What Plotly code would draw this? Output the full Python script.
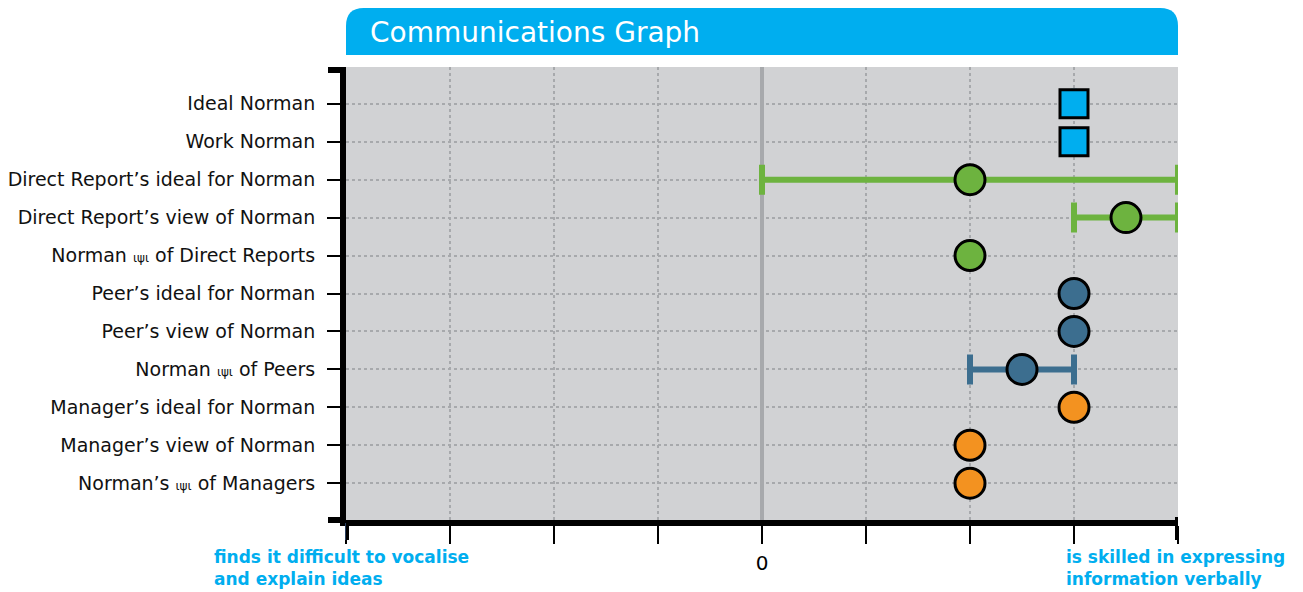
import plotly.graph_objects as go

PSI = "<span style='font-size:12px'>ιψι</span>"
categories = [
    "Ideal Norman",
    "Work Norman",
    "Direct Report’s ideal for Norman",
    "Direct Report’s view of Norman",
    "Norman " + PSI + " of Direct Reports",
    "Peer’s ideal for Norman",
    "Peer’s view of Norman",
    "Norman " + PSI + " of Peers",
    "Manager’s ideal for Norman",
    "Manager’s view of Norman",
    "Norman’s " + PSI + " of Managers",
]
values = [3, 3, 2, 3.5, 2, 3, 3, 2.5, 3, 2, 2]
err_minus = [0, 0, 2, 0.5, 0, 0, 0, 0.5, 0, 0, 0]
err_plus = [0, 0, 2, 0.5, 0, 0, 0, 0.5, 0, 0, 0]
groups = ["self", "self", "dr", "dr", "dr", "peer", "peer", "peer", "mgr", "mgr", "mgr"]
group_colors = {"self": "#00AEEF", "dr": "#6DB33F", "peer": "#3C6E8F", "mgr": "#F39220"}
group_symbols = {"self": "square", "dr": "circle", "peer": "circle", "mgr": "circle"}
x_ticks = [-4, -3, -2, -1, 0, 1, 2, 3, 4]
x_ticktext = ["", "", "", "", "0", "", "", "", ""]
title_text = "Communications Graph"
left_label = "finds it difficult to vocalise<br>and explain ideas"
right_label = "is skilled in expressing<br>information verbally"

fig = go.Figure()
for g in ["self", "dr", "peer", "mgr"]:
    idx = [i for i, gg in enumerate(groups) if gg == g]
    fig.add_trace(go.Scatter(
        x=[values[i] for i in idx],
        y=[categories[i] for i in idx],
        mode="markers",
        cliponaxis=False,
        marker=dict(
            symbol=group_symbols[g],
            size=28 if g == "self" else 30,
            color=group_colors[g],
            line=dict(color="black", width=3),
        ),
        error_x=dict(
            type="data", symmetric=False,
            array=[err_plus[i] for i in idx],
            arrayminus=[err_minus[i] for i in idx],
            color=group_colors[g], thickness=6, width=15,
        ),
        showlegend=False,
    ))

FONT = "DejaVu Sans"
fig.update_layout(
    width=1303, height=592,
    margin=dict(l=346, r=125, t=67, b=72),
    paper_bgcolor="white",
    plot_bgcolor="#D1D2D4",
    font=dict(family=FONT, color="#111111"),
    title=dict(
        text=title_text,
        font=dict(family=FONT, size=28, color="white"),
        x=(370 - 346) / 832, xref="paper", xanchor="left",
        y=1 - 32 / 592, yref="container", yanchor="middle",
    ),
    xaxis=dict(
        range=[-4, 4],
        tickvals=x_ticks, ticktext=x_ticktext,
        ticks="outside", ticklen=18, tickwidth=2, tickcolor="black",
        showline=True, linewidth=6, linecolor="black",
        showgrid=True, gridcolor="#A7A9AC", griddash="dot", gridwidth=2,
        zeroline=True, zerolinecolor="#A7A9AC", zerolinewidth=4,
        tickfont=dict(size=20, color="black"),
        ticklabelstandoff=2,
        automargin=False,
        fixedrange=True,
    ),
    yaxis=dict(
        type="category",
        categoryorder="array", categoryarray=categories,
        range=[len(categories) - 0.03, -0.97],
        ticks="outside", ticklen=13, tickwidth=2, tickcolor="black",
        showline=True, linewidth=6, linecolor="black",
        showgrid=True, gridcolor="#A7A9AC", griddash="dot", gridwidth=2,
        tickfont=dict(size=19, color="#111111"),
        ticklabelstandoff=8,
        automargin=False,
        fixedrange=True,
    ),
)

shapes = [
    dict(type="path", xref="x", yref="paper", ysizemode="pixel", yanchor=1,
         path="M -4,12 L -4,41 Q -4,59 -3.83,59 L 3.83,59 Q 4,59 4,41 L 4,12 Z",
         fillcolor="#00AEEF", line=dict(width=0), layer="above"),
    dict(type="line", xref="paper", yref="paper", x0=0, x1=0,
         xsizemode="pixel", xanchor=0, ysizemode="pixel", yanchor=0,
         y0=0, y1=-20),
    dict(type="line", xref="x", yref="paper", x0=-4, x1=-4,
         ysizemode="pixel", yanchor=0, y0=0, y1=-20, line=dict(color="black", width=6)),
    dict(type="line", xref="x", yref="paper", x0=4, x1=4,
         ysizemode="pixel", yanchor=0, y0=3, y1=-20, line=dict(color="black", width=6)),
    dict(type="line", xref="paper", yref="paper", xsizemode="pixel", xanchor=0,
         x0=-18, x1=0, y0=0, y1=0, line=dict(color="black", width=6)),
    dict(type="line", xref="paper", yref="paper", xsizemode="pixel", xanchor=0,
         x0=-18, x1=0, ysizemode="pixel", yanchor=1, y0=-3, y1=-3, line=dict(color="black", width=6)),
]
fig.update_layout(shapes=shapes)

fig.add_annotation(text=left_label, xref="paper", yref="paper",
                   x=(212 - 346) / 832, y=-25 / 453, xanchor="left", yanchor="top",
                   align="left", showarrow=False,
                   font=dict(family=FONT, size=17, color="#00AEEF", weight="bold"))
fig.add_annotation(text=right_label, xref="paper", yref="paper",
                   x=(1064 - 346) / 832, y=-25 / 453, xanchor="left", yanchor="top",
                   align="left", showarrow=False,
                   font=dict(family=FONT, size=17, color="#00AEEF", weight="bold"))

fig.write_html("out.html", config={"displayModeBar": False},
               post_script="document.body.style.margin='0';document.body.style.overflow='hidden';")
